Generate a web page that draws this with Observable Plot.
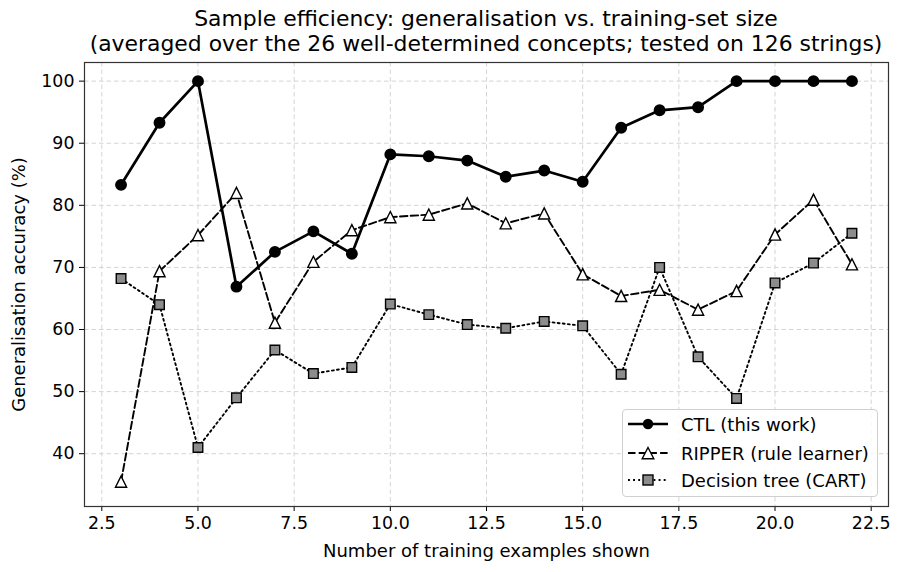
<!DOCTYPE html>
<html>
<head>
<meta charset="utf-8">
<script src="https://cdn.jsdelivr.net/npm/d3@7"></script>
<script src="https://cdn.jsdelivr.net/npm/@observablehq/plot@0.6"></script>
<style>
  html, body { margin: 0; padding: 0; background: #fff; overflow: hidden; }
  body { width: 897px; height: 572px; position: relative; font-family: "DejaVu Sans", sans-serif; color: #000; }
  #title { height: 52px; padding-top: 6px; box-sizing: border-box; text-align: center; font-size: 21.9px; line-height: 25px; padding-left: 75px; white-space: nowrap; }
  #legend { position: absolute; left: 622px; top: 409px; width: 256px; height: 88px; border: 1px solid #d0d0d0; border-radius: 4px; background: rgba(255,255,255,0.85); box-sizing: border-box; }
  .row { position: absolute; left: 0; height: 28px; font-size: 18px; }
  .row svg { position: absolute; left: 4px; top: 0; }
  .row span { position: absolute; left: 58px; top: 3px; white-space: nowrap; }
  .axlabel text { font-size: 18px; }
</style>
</head>
<body>
<div id="title">Sample efficiency: generalisation vs. training-set size<br>(averaged over the 26 well-determined concepts; tested on 126 strings)</div>
<div id="chart"></div>
<div id="legend"></div>
<script>
const examples = [3,4,5,6,7,8,9,10,11,12,13,14,15,16,17,18,19,20,21,22];
const ctl    = [83.3,93.3,100,66.9,72.5,75.8,72.2,88.2,87.9,87.2,84.6,85.6,83.8,92.5,95.3,95.8,100,100,100,100];
const ripper = [35.5,69.4,75.2,82.0,61.1,70.9,76.0,78.1,78.5,80.3,77.1,78.7,68.9,65.4,66.4,63.2,66.2,75.3,80.9,70.5];
const cart   = [68.2,64.0,41.0,49.0,56.7,52.9,53.9,64.1,62.4,60.8,60.2,61.3,60.6,52.8,70.0,55.6,48.9,67.5,70.7,75.5];
const seriesNames = ["CTL (this work)", "RIPPER (rule learner)", "Decision tree (CART)"];
const xTicks = [2.5,5,7.5,10,12.5,15,17.5,20,22.5];
const yTicks = [40,50,60,70,80,90,100];

const rows = (vals) => examples.map((x, i) => ({x, y: vals[i]}));
const dCtl = rows(ctl), dRip = rows(ripper), dCart = rows(cart);

const tri = { draw(ctx, size) { const a = Math.sqrt(size) / 2; ctx.moveTo(0, -a); ctx.lineTo(a, a); ctx.lineTo(-a, a); ctx.closePath(); } };

const chart = Plot.plot({
  width: 897,
  height: 520,
  marginTop: 10,
  marginLeft: 84,
  marginRight: 9,
  marginBottom: 66,
  style: { fontFamily: "DejaVu Sans, sans-serif", fontSize: "17.4px", color: "#000", background: "transparent" },
  x: { domain: [2.05, 22.95], ticks: xTicks, tickFormat: d3.format(".1f") },
  y: { domain: [31.5, 103.0], ticks: yTicks },
  marks: [
    Plot.gridX(xTicks, { stroke: "#d4d4d4", strokeOpacity: 1, strokeDasharray: "4.5,3", strokeWidth: 1 }),
    Plot.gridY(yTicks, { stroke: "#d4d4d4", strokeOpacity: 1, strokeDasharray: "4.5,3", strokeWidth: 1 }),
    Plot.axisX({ ticks: xTicks, tickFormat: d3.format(".1f"), tickSize: 5, tickPadding: 5, label: null, fontSize: "17.4px" }),
    Plot.axisX({ ticks: [], label: "Number of training examples shown", labelAnchor: "center", labelArrow: "none", labelOffset: 50, fontSize: "18px", tickSize: 0 }),
    Plot.axisY({ ticks: yTicks, tickSize: 5, tickPadding: 5, label: null, fontSize: "17.4px" }),
    Plot.axisY({ ticks: [], label: "Generalisation accuracy (%)", labelAnchor: "center", labelArrow: "none", labelOffset: 72, fontSize: "18px", tickSize: 0 }),
    Plot.line(dCart, { x: "x", y: "y", stroke: "#000", strokeWidth: 1.9, strokeDasharray: "1.9,3.2" }),
    Plot.line(dRip, { x: "x", y: "y", stroke: "#000", strokeWidth: 1.9, strokeDasharray: "7.5,3.2" }),
    Plot.line(dCtl, { x: "x", y: "y", stroke: "#000", strokeWidth: 2.7 }),
    Plot.dot(dCart, { x: "x", y: "y", symbol: "square", r: 5.4, fill: "#8c8c8c", stroke: "#000", strokeWidth: 1.4 }),
    Plot.dot(dRip, { x: "x", y: "y", symbol: tri, r: 6.3, fill: "#fff", stroke: "#000", strokeWidth: 1.4 }),
    Plot.dot(dCtl, { x: "x", y: "y", symbol: "circle", r: 5.2, fill: "#000", stroke: "#000" }),
    Plot.frame({ stroke: "#333", strokeWidth: 1.2 })
  ]
});
document.getElementById("chart").appendChild(chart);

// Legend
const legend = document.getElementById("legend");
const styles = [
  { dash: null, w: 2.7, marker: "circle" },
  { dash: "7.5,3.2", w: 1.9, marker: "triangle" },
  { dash: "1.9,3.2", w: 1.9, marker: "square" }
];
seriesNames.forEach((name, i) => {
  const row = document.createElement("div");
  row.className = "row";
  row.style.top = (i === 0 ? 1 : i === 1 ? 30 : 57) + "px";
  const s = styles[i];
  const svg = d3.create("svg").attr("width", 46).attr("height", 28);
  svg.append("line").attr("x1", 1).attr("x2", 41).attr("y1", 13).attr("y2", 13)
    .attr("stroke", "#000").attr("stroke-width", s.w).attr("stroke-dasharray", s.dash);
  if (s.marker === "circle") svg.append("circle").attr("cx", 21).attr("cy", 13).attr("r", 5.2).attr("fill", "#000");
  if (s.marker === "triangle") svg.append("path").attr("d", "M21,7.5L26.8,18.8L15.2,18.8Z").attr("fill", "#fff").attr("stroke", "#000").attr("stroke-width", 1.4);
  if (s.marker === "square") svg.append("rect").attr("x", 16).attr("y", 8).attr("width", 10).attr("height", 10).attr("fill", "#8c8c8c").attr("stroke", "#000").attr("stroke-width", 1.4);
  row.appendChild(svg.node());
  const span = document.createElement("span");
  span.textContent = name;
  row.appendChild(span);
  legend.appendChild(row);
});
</script>
</body>
</html>
